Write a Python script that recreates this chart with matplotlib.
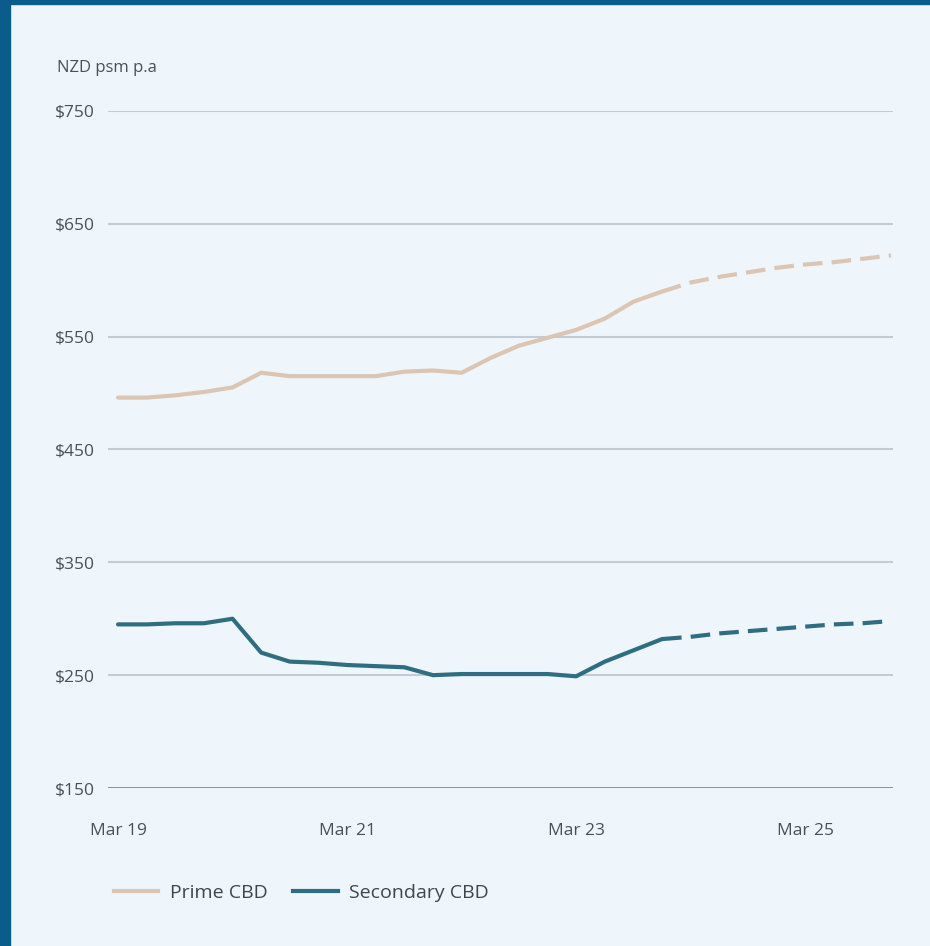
import matplotlib.pyplot as plt
from matplotlib.lines import Line2D

# quarterly data, Mar 19 .. Dec 25 (months since Mar 19)
meses = [3 * i for i in range(28)]
prime = [496, 496, 498, 501, 505, 518, 515, 515, 515, 515, 519, 520, 518, 531,
         542, 549, 556, 566, 581, 590, 598, 603, 607, 611, 614, 616, 619, 622]
secondary = [295, 295, 296, 296, 300, 270, 262, 261, 259, 258, 257, 250, 251, 251,
             251, 251, 249, 262, 272, 282, 284, 287, 289, 291, 293, 295, 296, 298]
corte = 19  # forecast starts here (Dec 23)

yticks = [150, 250, 350, 450, 550, 650, 750]
xticks = [0, 24, 48, 72]
xlabels = ["Mar 19", "Mar 21", "Mar 23", "Mar 25"]

cor_prime = "#dcc5b3"
cor_sec = "#2f6e80"
fundo = "#eef6fc"
borda = "#0b5b8b"
cor_txt = "#4a5056"

plt.rcParams["font.family"] = ["Open Sans", "DejaVu Sans"]

fig = plt.figure(figsize=(9.3, 9.46), dpi=100, facecolor=fundo)
# dark blue frame on left and top
fig.patches.append(plt.Rectangle((0, 0), 10 / 930, 1, transform=fig.transFigure, color=borda, zorder=0))
fig.patches.append(plt.Rectangle((0, 1 - 4 / 946), 1, 4 / 946, transform=fig.transFigure, color=borda, zorder=0))

ax = fig.add_axes([108 / 930, 1 - 788 / 946, (893 - 108) / 930, (788 - 111) / 946])
ax.set_facecolor(fundo)

lw = 3.0
tracos = (4.7, 2.2)
ax.plot(meses[:corte + 1], prime[:corte + 1], color=cor_prime, lw=lw, solid_capstyle="round", solid_joinstyle="round")
ax.plot(meses[corte:], prime[corte:], color=cor_prime, lw=lw, dashes=tracos)
ax.plot(meses[:corte + 1], secondary[:corte + 1], color=cor_sec, lw=lw, solid_capstyle="round", solid_joinstyle="round")
ax.plot(meses[corte:], secondary[corte:], color=cor_sec, lw=lw, dashes=tracos)

ax.set_xlim(-1.05, 81.2)
ax.set_ylim(150, 750)
for y in yticks:
    if y == 150:
        ax.axhline(y, color="#7f8992", lw=2, zorder=0)
    else:
        ax.axhline(y, color="#c3ccd4", lw=1.5, zorder=0)

ax.set_yticks(yticks)
ax.set_yticklabels([f"${v}" for v in yticks], fontsize=12.5, color=cor_txt)
ax.set_xticks(xticks)
ax.set_xticklabels(xlabels, fontsize=12.5, color=cor_txt)
ax.tick_params(axis="y", length=0, pad=9.5)
ax.tick_params(axis="x", length=0, pad=25)
for s in ax.spines.values():
    s.set_visible(False)

fig.text(57 / 930, 1 - 68 / 946, "NZD psm p.a", fontsize=12, color=cor_txt, va="center")

handles = [Line2D([], [], color=cor_prime, lw=lw), Line2D([], [], color=cor_sec, lw=lw)]
fig.legend(handles, ["Prime CBD", "Secondary CBD"], loc="center left",
           bbox_to_anchor=(96 / 930, 1 - 893 / 946), ncol=2, frameon=False,
           fontsize=14, labelcolor="#3f454b", handlelength=2.3, handletextpad=0.6,
           columnspacing=1.3)

fig.savefig("out.png", dpi=100, facecolor=fundo)
